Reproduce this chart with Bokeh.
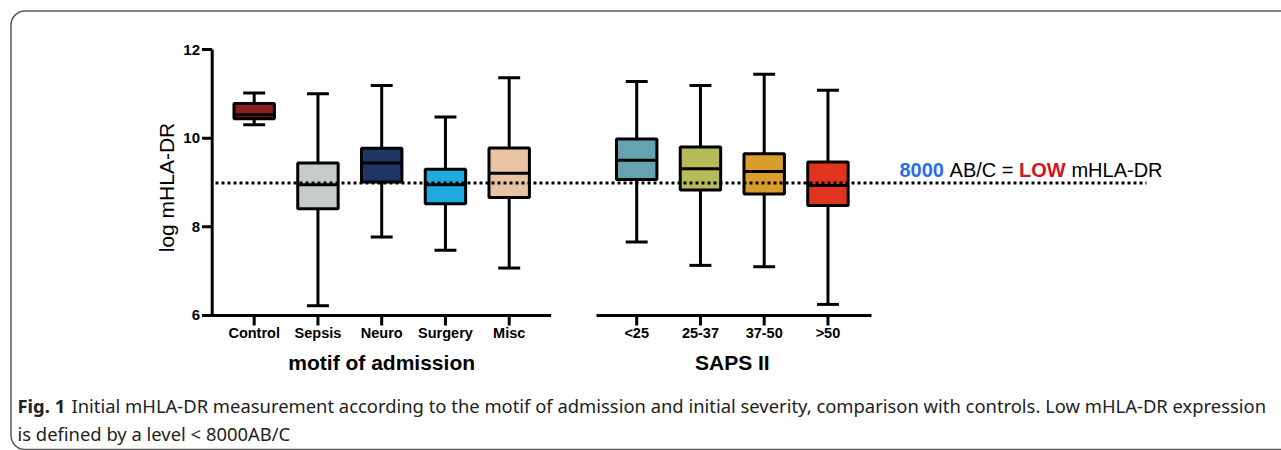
import math
from bokeh.plotting import figure
from bokeh.models import Range1d, ColumnDataSource
from bokeh.core.properties import value
from bokeh.embed import file_html
from bokeh.resources import INLINE

# ---------------- data ----------------
admission_cats = ["Control", "Sepsis", "Neuro", "Surgery", "Misc"]
saps_cats = ["<25", "25-37", "37-50", ">50"]

whisker_low = [10.30, 6.22, 7.77, 7.47, 7.07, 7.66, 7.13, 7.10, 6.25]
q1_vals = [10.44, 8.41, 9.01, 8.52, 8.66, 9.07, 8.83, 8.74, 8.48]
median_vals = [10.53, 8.95, 9.44, 8.95, 9.21, 9.50, 9.31, 9.25, 8.93]
q3_vals = [10.78, 9.44, 9.77, 9.30, 9.78, 9.98, 9.80, 9.65, 9.46]
whisker_high = [11.02, 11.00, 11.19, 10.48, 11.36, 11.28, 11.19, 11.44, 11.08]

box_colors = ["#8c1c22", "#c4cbc8", "#1f3666", "#1fa9e1", "#e8c4a2",
              "#65a3b0", "#b6bb5a", "#d89d2a", "#e1341e"]

y_ticks = [6, 8, 10, 12]
threshold = math.log(8000)  # low mHLA-DR threshold, 8000 AB/C

caption_line1 = ("Initial mHLA-DR measurement according to the motif of admission and initial "
                 "severity, comparison with controls. Low mHLA-DR expression")
caption_line2 = "is defined by a level < 8000AB/C"

# ---------------- layout helpers ----------------
W, H = 1281, 450
X0_PAGE, X_SCALE = 253.7, 63.75      # x pixel of first category, px per category
Y12_PAGE, Y_SCALE = 49.0, 44.33      # y pixel of value 12, px per log unit


def px_x(page_x):
    return (page_x - X0_PAGE) / X_SCALE


def px_y(page_y):
    return 12 - (page_y - Y12_PAGE) / Y_SCALE


x_range = Range1d(px_x(0), px_x(W))
y_range = Range1d(px_y(H), px_y(0))

p = figure(width=W, height=H, x_range=x_range, y_range=y_range,
           output_backend="svg", toolbar_location=None,
           x_axis_location=None, y_axis_location=None, min_border=0)
p.grid.visible = False
p.outline_line_color = None
p.background_fill_color = "white"

cats = admission_cats + saps_cats
xpos = [i for i in range(len(admission_cats))] + [len(admission_cats) + 1 + i for i in range(len(saps_cats))]

BOX_HALF = 0.317
CAP_HALF = 0.172
LW = 3

src = ColumnDataSource(dict(
    x=xpos, lo=whisker_low, q1=q1_vals, med=median_vals, q3=q3_vals, hi=whisker_high,
    left=[x - BOX_HALF for x in xpos], right=[x + BOX_HALF for x in xpos],
    cl=[x - CAP_HALF for x in xpos], cr=[x + CAP_HALF for x in xpos],
    color=box_colors,
))

# outer rounded frame of the figure panel
p.quad(left=[px_x(10.5)], right=[px_x(1320)], top=[px_y(10.5)], bottom=[px_y(449)],
       fill_color=None, line_color="#5a5a5a", line_width=1.5, border_radius=14)

# whiskers and caps
p.segment(x0="x", y0="q3", x1="x", y1="hi", source=src, line_color="black", line_width=LW)
p.segment(x0="x", y0="q1", x1="x", y1="lo", source=src, line_color="black", line_width=LW)
p.segment(x0="cl", y0="hi", x1="cr", y1="hi", source=src, line_color="black", line_width=LW)
p.segment(x0="cl", y0="lo", x1="cr", y1="lo", source=src, line_color="black", line_width=LW)
# boxes
p.quad(left="left", right="right", bottom="q1", top="q3", source=src,
       fill_color="color", line_color="black", line_width=LW)
# medians
p.segment(x0="left", y0="med", x1="right", y1="med", source=src, line_color="black", line_width=LW)

# threshold dotted line
p.segment(x0=[px_x(215)], y0=[threshold], x1=[px_x(1146)], y1=[threshold],
          line_color="black", line_width=3, line_dash="3 3")

# y axis
ax_x = px_x(211.7)
p.segment(x0=[ax_x], y0=[y_ticks[0] - 0.03], x1=[ax_x], y1=[y_ticks[-1]],
          line_color="black", line_width=LW)
p.segment(x0=[px_x(201.5)] * len(y_ticks), y0=y_ticks, x1=[ax_x] * len(y_ticks), y1=y_ticks,
          line_color="black", line_width=LW)
p.text(x=[px_x(199.5)] * len(y_ticks), y=y_ticks, text=[str(t) for t in y_ticks],
       text_font=value("Liberation Sans"), text_font_style="bold", text_font_size="15px",
       text_align="right", text_baseline="middle", text_color="black")
p.text(x=[px_x(165.5)], y=[px_y(187)], text=["log mHLA-DR"], angle=math.pi / 2,
       text_font=value("Liberation Sans"), text_font_size="21px",
       text_align="center", text_baseline="middle", text_color="black")

# x axes (two broken groups)
y_base = y_ticks[0]
p.segment(x0=[ax_x, px_x(596)], y0=[y_base, y_base], x1=[px_x(550.7), px_x(871)], y1=[y_base, y_base],
          line_color="black", line_width=LW)
p.segment(x0=xpos, y0=[y_base] * len(xpos), x1=xpos, y1=[px_y(325)] * len(xpos),
          line_color="black", line_width=LW)
p.text(x=xpos, y=[px_y(332)] * len(xpos), text=cats,
       text_font=value("Liberation Sans"), text_font_style="bold", text_font_size="14.5px",
       text_align="center", text_baseline="middle", text_color="black")
group_x = [(xpos[0] + xpos[len(admission_cats) - 1]) / 2,
           (xpos[len(admission_cats)] + xpos[-1]) / 2]
p.text(x=group_x, y=[px_y(362)] * 2, text=["motif of admission", "SAPS II"],
       text_font=value("Liberation Sans"), text_font_style="bold", text_font_size="21px",
       text_align="center", text_baseline="middle", text_color="black")

# threshold annotation (mixed styles)
ann_y = px_y(169)
ann_parts = [("8000", "bold", "#2b6de8", 899.0),
             ("AB/C =", "normal", "black", 949.1),
             ("LOW", "bold", "#d0151e", 1018.6),
             ("mHLA-DR", "normal", "black", 1070.9)]
for txt, style, col, xx in ann_parts:
    p.text(x=[px_x(xx)], y=[ann_y], text=[txt], text_font=value("Liberation Sans"),
           text_font_style=style, text_font_size="20px", text_color=col,
           text_align="left", text_baseline="middle")

# caption
cap_font = value("Noto Sans")
p.text(x=[px_x(17)], y=[px_y(405)], text=["Fig. 1"], text_font=cap_font, text_font_style="bold",
       text_font_size="18.4px", text_align="left", text_baseline="middle", text_color="#222222")
p.text(x=[px_x(71)], y=[px_y(405)], text=[caption_line1], text_font=cap_font,
       text_font_size="18.4px", text_align="left", text_baseline="middle", text_color="#222222")
p.text(x=[px_x(17)], y=[px_y(433)], text=[caption_line2], text_font=cap_font,
       text_font_size="18.4px", text_align="left", text_baseline="middle", text_color="#222222")

open("out.html", "w").write(file_html(p, INLINE))
